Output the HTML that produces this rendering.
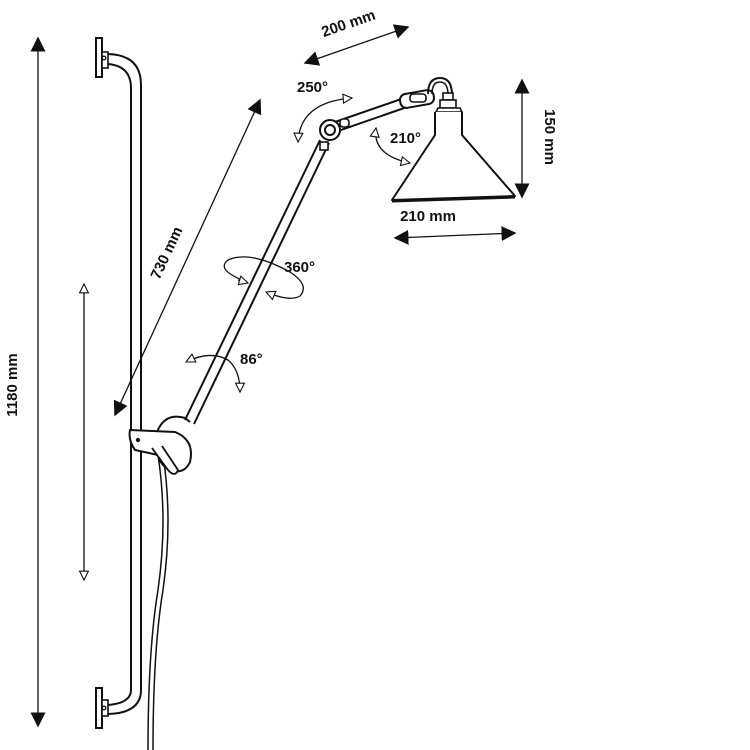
<!DOCTYPE html>
<html><head><style>html,body{margin:0;padding:0;background:#fff}svg{display:block}text{font-family:"Liberation Sans",sans-serif;font-weight:bold;font-size:15px;fill:#111}</style></head>
<body>
<svg width="750" height="750" viewBox="0 0 750 750" xmlns="http://www.w3.org/2000/svg">
<defs>
<marker id="fa" viewBox="0 0 10 10" refX="9" refY="5" markerWidth="15" markerHeight="15" markerUnits="userSpaceOnUse" orient="auto-start-reverse"><path d="M0,0L10,5L0,10Z" fill="#111"/></marker>
<marker id="oa" viewBox="0 0 10 10" refX="9" refY="5" markerWidth="11" markerHeight="11" markerUnits="userSpaceOnUse" orient="auto-start-reverse"><path d="M1,1L9,5L1,9Z" fill="#fff" stroke="#111" stroke-width="1"/></marker>
</defs>
<g stroke="#111" fill="none" stroke-width="1.3">
<line x1="38" y1="38" x2="38" y2="726" marker-start="url(#fa)" marker-end="url(#fa)"/>
<line x1="84" y1="284" x2="84" y2="580" marker-start="url(#oa)" marker-end="url(#oa)"/>
<path d="M131,690 L131,88 Q131,66 108,64" stroke-width="2"/>
<path d="M141,690 L141,85 Q141,55 108,54" stroke-width="2"/>
<path d="M131,690 Q131,703 108,705" stroke-width="2"/>
<path d="M141,690 Q141,713 108,714" stroke-width="2"/>
<rect x="96" y="38" width="6" height="39" stroke-width="2" fill="#fff"/>
<rect x="102" y="52" width="6" height="16" stroke-width="1.6" fill="#fff"/>
<circle cx="104" cy="58" r="1.8"/>
<rect x="96" y="688" width="6" height="40" stroke-width="2" fill="#fff"/>
<rect x="102" y="700" width="6" height="16" stroke-width="1.6" fill="#fff"/>
<circle cx="104" cy="708" r="1.8"/>
<path d="M158,455 Q168,520 158,590 Q148,650 148,750" stroke-width="1.5"/>
<path d="M163,455 Q173,520 163,590 Q153,650 153,750" stroke-width="1.5"/>
<line x1="260" y1="100" x2="115" y2="415" marker-start="url(#fa)" marker-end="url(#fa)"/>
<line x1="185" y1="420" x2="320" y2="140" stroke-width="2"/>
<line x1="194" y1="424" x2="329" y2="143" stroke-width="2"/>
<path d="M157,432 Q165,412 185,418 L190,422" stroke-width="2"/>
<path d="M130,430 L175,432 Q195,440 190,462 Q184,475 170,470 Q160,465 158,455 L135,450 Q128,440 130,430Z" stroke-width="2" fill="#fff"/>
<circle cx="138" cy="440" r="1.5" fill="#111"/>
<path d="M152,448 L168,470 Q175,478 178,470 L162,446" stroke-width="1.8" fill="#fff"/>
<line x1="335" y1="122" x2="410" y2="96" stroke-width="2"/>
<line x1="338" y1="131" x2="413" y2="105" stroke-width="2"/>
<circle cx="330" cy="130" r="10" stroke-width="2" fill="#fff"/>
<circle cx="330" cy="130" r="5" stroke-width="2"/>
<rect x="340" y="119" width="9" height="8" rx="3" stroke-width="1.6" fill="#fff"/>
<rect x="320" y="142" width="8" height="8" stroke-width="1.6" fill="#fff"/>
<rect x="400" y="92" width="34" height="14" rx="6" stroke-width="2" fill="#fff" transform="rotate(-10 417 99)"/>
<rect x="410" y="94" width="16" height="8" rx="3" stroke-width="1.6" fill="#fff"/>
<path d="M428,94 Q428,78 440,78 Q452,78 452,95" stroke-width="2"/>
<path d="M432,94 Q432,82 440,82 Q448,82 448,95" stroke-width="1.5"/>
<rect x="443" y="93" width="10" height="7" stroke-width="1.6" fill="#fff"/>
<rect x="440" y="100" width="16" height="8" stroke-width="1.6" fill="#fff"/>
<path d="M436,112 L438,108 L460,108 L462,112Z" stroke-width="1.6" fill="#fff"/>
<path d="M435,112 L435,135 L392,200 L515,196 L462,135 L462,112" stroke-width="2" fill="#fff" stroke-linejoin="round"/>
<line x1="392" y1="201" x2="515" y2="197" stroke-width="3"/>
<line x1="305" y1="63" x2="408" y2="27" marker-start="url(#fa)" marker-end="url(#fa)"/>
<line x1="522" y1="80" x2="522" y2="197" marker-start="url(#fa)" marker-end="url(#fa)"/>
<line x1="395" y1="238" x2="515" y2="233" marker-start="url(#fa)" marker-end="url(#fa)"/>
<path d="M298,142 Q300,102 352,98" marker-start="url(#oa)" marker-end="url(#oa)"/>
<path d="M376,128 Q372,155 410,163" marker-start="url(#oa)" marker-end="url(#oa)"/>
<path d="M247,282 Q215,270 228,260 Q250,250 290,272 Q310,285 300,296 Q290,302 266,292" marker-end="url(#oa)"/>
<line x1="238" y1="280" x2="248" y2="283" marker-end="url(#oa)"/>
<path d="M186,362 Q210,350 228,360 Q240,370 240,392" marker-start="url(#oa)" marker-end="url(#oa)"/>
</g>
<text transform="translate(17,385) rotate(-90)" text-anchor="middle">1180 mm</text>
<text transform="translate(171,255) rotate(-65)" text-anchor="middle">730 mm</text>
<text transform="translate(350,28) rotate(-19)" text-anchor="middle">200 mm</text>
<text transform="translate(545,137) rotate(90)" text-anchor="middle">150 mm</text>
<text x="428" y="221" text-anchor="middle">210 mm</text>
<text x="297" y="92">250°</text>
<text x="390" y="143">210°</text>
<text x="284" y="272">360°</text>
<text x="240" y="364">86°</text>
</svg>
</body></html>
